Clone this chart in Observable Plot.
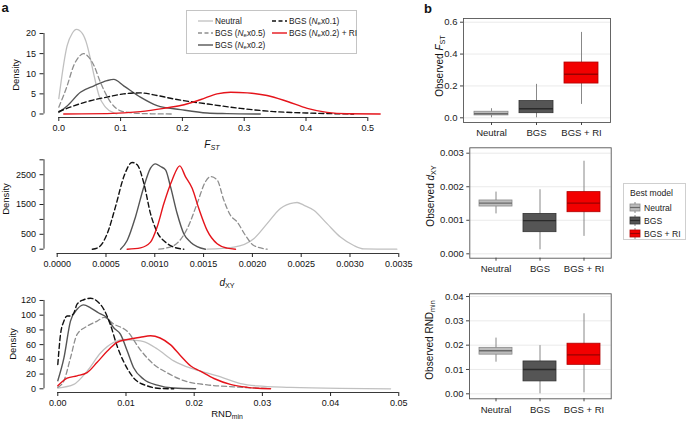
<!DOCTYPE html>
<html>
<head>
<meta charset="utf-8">
<script src="https://cdn.jsdelivr.net/npm/d3@7"></script>
<script src="https://cdn.jsdelivr.net/npm/@observablehq/plot@0.6"></script>
<style>
html,body{margin:0;padding:0;background:#fff;}
#chart{position:relative;width:686px;height:421px;overflow:hidden;font-family:"Liberation Sans",Arial,Helvetica,sans-serif;color:#111;}
.t{position:absolute;white-space:nowrap;line-height:1;}
.sub{font-size:0.72em;position:relative;top:0.32em;}
.lg{position:absolute;border:1px solid #c4c4c4;background:#fff;box-sizing:border-box;}
.lgt{position:absolute;white-space:nowrap;line-height:1;font-size:8.3px;color:#222;transform:translateY(-50%);}
</style>
</head>
<body>
<div id="chart"></div>
<script>
// ---------------- data ----------------
const seriesLabels = [
  "Neutral",
  "BGS (<i>N</i><span class='sub'>e</span>x0.5)",
  "BGS (<i>N</i><span class='sub'>e</span>x0.2)",
  "BGS (<i>N</i><span class='sub'>e</span>x0.1)",
  "BGS (<i>N</i><span class='sub'>e</span>x0.2) + RI"
];

// F_ST densities [value, density]
const fstNeutral = [[0,3.8],[0.0135,17],[0.0216,20],[0.0286,21],[0.038,20],[0.046,17],[0.051,13.8],[0.057,9.6],[0.065,4.6],[0.0755,1.7],[0.089,0.3],[0.094,0.05]];
const fstHalf = [[0,1.7],[0.0135,7],[0.024,12],[0.033,14.3],[0.04,15],[0.048,14.2],[0.057,12],[0.067,8],[0.076,5],[0.084,2.9],[0.1,0.8],[0.121,0.25],[0.15,0.05],[0.186,0]];
const fstFifth = [[0,0.4],[0.0135,2],[0.035,5.4],[0.057,7],[0.078,8.3],[0.089,8.6],[0.105,7],[0.132,4.2],[0.159,2.1],[0.197,1.1],[0.24,0.25],[0.272,0.1],[0.326,0]];
const fstTenth = [[0,0.6],[0.024,2],[0.051,3.3],[0.078,4.2],[0.105,5],[0.132,5.25],[0.159,4.6],[0.186,3.75],[0.24,2.5],[0.294,1.4],[0.348,0.6],[0.40,0.25],[0.456,0.05],[0.477,0]];
const fstRI = [[0.008,0],[0.078,0.1],[0.132,0.6],[0.17,1.4],[0.197,2.1],[0.23,3.6],[0.256,5],[0.278,5.4],[0.305,5.25],[0.337,4.6],[0.37,3.1],[0.402,1.4],[0.434,0.4],[0.466,0.05],[0.52,0]];

// d_XY densities
const dxyNeutral = [[0.001536,0],[0.00181,68],[0.002014,350],[0.002151,857],[0.002287,1365],[0.002424,1557],[0.002458,1568],[0.002526,1478],[0.002629,1308],[0.002765,857],[0.002902,406],[0.003039,124],[0.003141,11],[0.00348,0]];
const dxyHalf = [[0.001041,0],[0.001195,124],[0.001332,688],[0.001434,1534],[0.001519,2267],[0.001571,2436],[0.001639,2324],[0.001707,1647],[0.001775,1139],[0.001844,914],[0.001929,462],[0.002014,124],[0.002151,0]];
const dxyFifth = [[0.000649,0],[0.000717,293],[0.000802,1083],[0.000888,2098],[0.000956,2718],[0.001007,2865],[0.001058,2775],[0.00111,2662],[0.001161,2098],[0.001229,1196],[0.001297,519],[0.001366,237],[0.001434,90],[0.001519,0]];
const dxyTenth = [[0.00036,0],[0.000427,68],[0.000512,519],[0.000597,1421],[0.000683,2436],[0.000768,2910],[0.00082,2831],[0.000888,2211],[0.000956,1196],[0.001024,575],[0.00111,237],[0.001195,68],[0.001297,0]];
const dxyRI = [[0.000717,0],[0.000854,45],[0.000956,237],[0.001024,744],[0.001093,1534],[0.001178,2324],[0.001256,2797],[0.001314,2436],[0.001383,2042],[0.001451,1365],[0.001536,632],[0.001639,180],[0.001741,34],[0.001827,0]];

// RND_min densities
const rndNeutral = [[0,1],[0.00235,6],[0.0043,24],[0.0063,49],[0.0082,63],[0.0097,67],[0.0111,66],[0.0126,64],[0.0146,54],[0.017,38],[0.0195,28],[0.0209,24],[0.0234,17.6],[0.0268,7],[0.0292,4],[0.0341,2],[0.0414,0.5],[0.0488,0]];
const rndHalf = [[0,2],[0.0009,11],[0.00186,42],[0.00283,74],[0.0043,85],[0.00577,92],[0.0068,97],[0.0082,88],[0.0102,78],[0.0121,53],[0.0141,33],[0.016,22],[0.0185,11],[0.0219,5.4],[0.0258,2.7],[0.0292,1],[0.031,0.5]];
const rndFifth = [[0,11],[0.0009,42],[0.00186,92],[0.00283,108],[0.0038,114],[0.0048,110],[0.006,103],[0.00723,96.5],[0.0082,83],[0.0092,74],[0.0102,51],[0.0111,29],[0.0126,13],[0.0146,5],[0.017,1],[0.0202,0]];
const rndTenth = [[0,33],[0.0004,74],[0.0009,92],[0.00137,99],[0.00186,99],[0.00235,103],[0.00283,115],[0.0038,121],[0.0048,123],[0.00577,119],[0.00675,108],[0.0077,87.5],[0.0087,58],[0.0097,36],[0.0111,15],[0.0131,4],[0.015,0.5],[0.017,0]];
const rndRI = [[0,4],[0.00137,14.4],[0.00283,17.6],[0.0043,22],[0.00577,36],[0.00723,51],[0.0087,63],[0.0102,67],[0.0121,70],[0.0136,72],[0.015,69],[0.0165,60],[0.018,45],[0.0195,31],[0.0209,24],[0.0229,14],[0.0253,6],[0.0278,2],[0.0312,0]];

// tick values / labels (panel a)
const fstTicks = [0,0.1,0.2,0.3,0.4,0.5];
const fstTickLabels = ["0.0","0.1","0.2","0.3","0.4","0.5"];
const fstDensTicks = [0,5,10,15,20];
const fstDensLabels = ["0","5","10","15","20"];
const dxyTicks = [0,0.0005,0.001,0.0015,0.002,0.0025,0.003,0.0035];
const dxyTickLabels = ["0.0000","0.0005","0.0010","0.0015","0.0020","0.0025","0.0030","0.0035"];
const dxyDensTicks = [0,500,1000,1500,2000,2500,3000];
const dxyDensLabels = ["0","500","","1500","","2500",""];
const rndTicks = [0,0.01,0.02,0.03,0.04,0.05];
const rndTickLabels = ["0.00","0.01","0.02","0.03","0.04","0.05"];
const rndDensTicks = [0,20,40,60,80,100,120];
const rndDensLabels = ["0","20","40","60","80","100","120"];

// panel b: box plot summaries
const boxCats = ["Neutral","BGS","BGS + RI"];
const fstLo  = [0.0, 0.0, 0.084];
const fstQ1  = [0.015, 0.029, 0.215];
const fstMed = [0.025, 0.057, 0.273];
const fstQ3  = [0.038, 0.105, 0.347];
const fstHi  = [0.057, 0.21, 0.536];
const dxyLo  = [0.00119, 0.00012, 0.00052];
const dxyQ1  = [0.00141, 0.000645, 0.00124];
const dxyMed = [0.00151, 0.00099, 0.00151];
const dxyQ3  = [0.00159, 0.00119, 0.00184];
const dxyHi  = [0.00184, 0.00191, 0.00276];
const rndLo  = [0.013, 0.0, 0.0004];
const rndQ1  = [0.0161, 0.0051, 0.0119];
const rndMed = [0.0177, 0.010, 0.016];
const rndQ3  = [0.0189, 0.0133, 0.0206];
const rndHi  = [0.0229, 0.0198, 0.0329];
const boxFstTicks = [0,0.2,0.4,0.6];
const boxFstLabels = ["0.0","0.2","0.4","0.6"];
const boxDxyTicks = [0,0.001,0.002,0.003];
const boxDxyLabels = ["0.000","0.001","0.002","0.003"];
const boxRndTicks = [0,0.01,0.02,0.03,0.04];
const boxRndLabels = ["0.00","0.01","0.02","0.03","0.04"];

// ---------------- styles ----------------
const FONT = '"Liberation Sans", Arial, Helvetica, sans-serif';
const lineStyles = [
  {stroke:"#c0c0c0", dash:null, w:1.3},
  {stroke:"#8e8e8e", dash:"5,3", w:1.3},
  {stroke:"#555555", dash:null, w:1.4},
  {stroke:"#111111", dash:"5,3", w:1.4},
  {stroke:"#e5141b", dash:null, w:1.4}
];
const boxFill = ["#bcbcbc","#555555","#f20000"];
const boxStroke = ["#8a8a8a","#333333","#b00000"];
const boxMedian = ["#6a6a6a","#2a2a2a","#9a0000"];

const chart = document.getElementById("chart");
function place(el, left, top){
  el.style.position = "absolute";
  el.style.left = left + "px";
  el.style.top = top + "px";
  chart.appendChild(el);
}
function label(html, cx, cy, size, opts = {}){
  const d = document.createElement("div");
  d.className = "t";
  d.innerHTML = html;
  d.style.fontSize = size + "px";
  if (opts.bold) d.style.fontWeight = "bold";
  if (opts.color) d.style.color = opts.color;
  d.style.left = cx + "px";
  d.style.top = cy + "px";
  d.style.transform = "translate(-50%,-50%)" + (opts.rotate ? ` rotate(${opts.rotate}deg)` : "");
  chart.appendChild(d);
}

function densityPlot(cfg){
  const fx = new Map(cfg.xTicks.map((t,i)=>[t, cfg.xLabels[i]]));
  const fy = new Map(cfg.yTicks.map((t,i)=>[t, cfg.yLabels[i]]));
  const x0 = cfg.xDomain[0], y0 = cfg.yDomain[0];
  const marks = [
    Plot.ruleX([x0], {y1: () => cfg.yTicks[0], y2: () => cfg.yTicks[cfg.yTicks.length-1], stroke:"#222", strokeWidth:0.9}),
    Plot.ruleY([y0], {x1: () => cfg.xTicks[0], x2: () => cfg.xTicks[cfg.xTicks.length-1], stroke:"#222", strokeWidth:0.9}),
    Plot.axisX({ticks: cfg.xTicks, tickFormat: d => fx.get(d), tickSize:4, tickPadding:3, label:null, stroke:"#222"}),
    Plot.axisY({ticks: cfg.yTicks, tickFormat: d => fy.get(d), tickSize:4, tickPadding:4, label:null, stroke:"#222"}),
    ...cfg.series.map((s,i) => Plot.line(s, {
      x: d => d[0], y: d => d[1],
      stroke: lineStyles[i].stroke, strokeWidth: lineStyles[i].w,
      strokeDasharray: lineStyles[i].dash || undefined,
      curve: "monotone-x"
    }))
  ];
  const svg = Plot.plot({
    width: cfg.width, height: cfg.height,
    marginLeft: cfg.ml, marginRight: cfg.mr, marginTop: cfg.mt, marginBottom: cfg.mb,
    x: {domain: cfg.xDomain},
    y: {domain: cfg.yDomain},
    style: {background:"none", fontFamily: FONT, fontSize:"9px", color:"#111", overflow:"visible"},
    marks
  });
  place(svg, cfg.left, cfg.top);
}

function boxPlot(cfg){
  const rows = boxCats.map((c,i)=>({cat:c, i, lo:cfg.lo[i], q1:cfg.q1[i], med:cfg.med[i], q3:cfg.q3[i], hi:cfg.hi[i]}));
  const fy = new Map(cfg.yTicks.map((t,i)=>[t, cfg.yLabels[i]]));
  const marks = [
    Plot.ruleY(cfg.yTicks, {stroke:"#e4e4e4", strokeWidth:0.8}),
    Plot.ruleX(rows, {x:"cat", y1:"lo", y2:"hi", stroke:"#7a7a7a", strokeWidth:0.9}),
    ...rows.map(r => Plot.barY([r], {x:"cat", y1:"q1", y2:"q3", fill: boxFill[r.i], stroke: boxStroke[r.i], strokeWidth:0.8, insetLeft:0, insetRight:0})),
    ...rows.map(r => Plot.tickY([r], {x:"cat", y:"med", stroke: boxMedian[r.i], strokeWidth:1.4})),
    Plot.frame({stroke:"#555", strokeWidth:0.9}),
    Plot.axisY({ticks: cfg.yTicks, tickFormat: d => fy.get(d), tickSize:3, tickPadding:3, label:null, stroke:"#444"}),
    Plot.axisX({tickSize:3, tickPadding:4, label:null, stroke:"#444"})
  ];
  const svg = Plot.plot({
    width: cfg.width, height: cfg.height,
    marginLeft: cfg.ml, marginRight: cfg.mr, marginTop: cfg.mt, marginBottom: cfg.mb,
    x: {type:"band", domain: boxCats, paddingInner:0.24, paddingOuter:0.22},
    y: {domain: cfg.yDomain},
    style: {background:"none", fontFamily: FONT, fontSize:"9.5px", color:"#222", overflow:"visible"},
    marks
  });
  place(svg, cfg.left, cfg.top);
}

// ---------------- panel a ----------------
densityPlot({
  series: [fstNeutral, fstHalf, fstFifth, fstTenth, fstRI],
  xTicks: fstTicks, xLabels: fstTickLabels, yTicks: fstDensTicks, yLabels: fstDensLabels,
  xDomain: [-0.02395, 0.5529], yDomain: [-0.87, 21.86],
  left:0, top:0, width:410, height:150, ml:43.5, mr:10, mt:25.5, mb:33
});
densityPlot({
  series: [dxyNeutral, dxyHalf, dxyFifth, dxyTenth, dxyRI],
  xTicks: dxyTicks, xLabels: dxyTickLabels, yTicks: dxyDensTicks, yLabels: dxyDensLabels,
  xDomain: [-0.0001352, 0.00362], yDomain: [-144.3, 3134.5],
  left:0, top:140, width:420, height:140, ml:43.5, mr:10, mt:15.3, mb:27
});
densityPlot({
  series: [rndNeutral, rndHalf, rndFifth, rndTenth, rndRI],
  xTicks: rndTicks, xLabels: rndTickLabels, yTicks: rndDensTicks, yLabels: rndDensLabels,
  xDomain: [-0.002023, 0.05172], yDomain: [-5.03, 125.4],
  left:0, top:280, width:420, height:141, ml:43.5, mr:10, mt:16, mb:29
});

// ---------------- panel b ----------------
boxPlot({
  lo: fstLo, q1: fstQ1, med: fstMed, q3: fstQ3, hi: fstHi,
  yTicks: boxFstTicks, yLabels: boxFstLabels, yDomain: [-0.0295, 0.6233],
  left:400, top:0, width:230, height:145, ml:63, mr:20, mt:18, mb:23
});
boxPlot({
  lo: dxyLo, q1: dxyQ1, med: dxyMed, q3: dxyQ3, hi: dxyHi,
  yTicks: boxDxyTicks, yLabels: boxDxyLabels, yDomain: [-0.000131, 0.003161],
  left:400, top:140, width:230, height:140, ml:69.3, mr:19.3, mt:7.3, mb:22.3
});
boxPlot({
  lo: rndLo, q1: rndQ1, med: rndMed, q3: rndQ3, hi: rndHi,
  yTicks: boxRndTicks, yLabels: boxRndLabels, yDomain: [-0.002056, 0.04112],
  left:400, top:280, width:230, height:141, ml:69, mr:19.3, mt:13.3, mb:22.7
});

// ---------------- text ----------------
label("a", 5, 7, 13, {bold:true});
label("b", 428, 8, 13, {bold:true});
label("Density", 16, 75, 9.5, {rotate:-90});
label("Density", 6, 199, 9.5, {rotate:-90});
label("Density", 12.5, 344, 9.5, {rotate:-90});
label("<i>F<span class='sub'>ST</span></i>", 212, 145, 10);
label("<i>d</i><span class='sub'>XY</span>", 227, 283, 10);
label("RND<span class='sub'>min</span>", 227, 414, 9.5);
label("Observed <i>F</i><span class='sub'>ST</span>", 440, 66, 10, {rotate:-90});
label("Observed <i>d</i><span class='sub'>XY</span>", 431, 196, 10, {rotate:-90});
label("Observed RND<span class='sub'>min</span>", 430, 340, 10, {rotate:-90});

// ---------------- legend panel a ----------------
const lgA = document.createElement("div");
lgA.className = "lg";
Object.assign(lgA.style, {left:"186px", top:"10px", width:"171px", height:"44px"});
chart.appendChild(lgA);
const lgPos = [[0,0],[0,1],[0,2],[1,0],[1,1]];
lgPos.forEach(([col,row], i) => {
  const lx = col === 0 ? 11 : 85;
  const ly = 9.5 + row * 12;
  const s = lineStyles[i];
  const sv = document.createElementNS("http://www.w3.org/2000/svg","svg");
  sv.setAttribute("width","15"); sv.setAttribute("height","4");
  sv.style.position = "absolute"; sv.style.left = lx + "px"; sv.style.top = (ly - 2) + "px";
  const ln = document.createElementNS("http://www.w3.org/2000/svg","line");
  ln.setAttribute("x1","0"); ln.setAttribute("x2","15"); ln.setAttribute("y1","2"); ln.setAttribute("y2","2");
  ln.setAttribute("stroke", s.stroke); ln.setAttribute("stroke-width", s.w);
  if (s.dash) ln.setAttribute("stroke-dasharray", "4,2.5");
  sv.appendChild(ln);
  lgA.appendChild(sv);
  const tx = document.createElement("div");
  tx.className = "lgt";
  tx.innerHTML = seriesLabels[i];
  tx.style.left = (lx + 17) + "px";
  tx.style.top = ly + "px";
  lgA.appendChild(tx);
});

// ---------------- legend panel b ----------------
const lgB = document.createElement("div");
lgB.className = "lg";
Object.assign(lgB.style, {left:"623px", top:"183px", width:"63px", height:"57px", borderColor:"#cfcfcf"});
chart.appendChild(lgB);
const lgTitle = document.createElement("div");
lgTitle.className = "lgt";
lgTitle.textContent = "Best model";
lgTitle.style.left = "6px"; lgTitle.style.top = "9px"; lgTitle.style.fontSize = "8.6px";
lgB.appendChild(lgTitle);
boxCats.forEach((c,i) => {
  const ly = 23.5 + i * 13;
  const sv = document.createElementNS("http://www.w3.org/2000/svg","svg");
  sv.setAttribute("width","12"); sv.setAttribute("height","11");
  sv.style.position = "absolute"; sv.style.left = "5px"; sv.style.top = (ly - 5.5) + "px";
  const NS = "http://www.w3.org/2000/svg";
  const wl = document.createElementNS(NS,"line");
  wl.setAttribute("x1","6"); wl.setAttribute("x2","6"); wl.setAttribute("y1","0"); wl.setAttribute("y2","11");
  wl.setAttribute("stroke","#7a7a7a"); wl.setAttribute("stroke-width","0.9");
  sv.appendChild(wl);
  const rc = document.createElementNS(NS,"rect");
  rc.setAttribute("x","1"); rc.setAttribute("y","2"); rc.setAttribute("width","10"); rc.setAttribute("height","7");
  rc.setAttribute("fill", boxFill[i]); rc.setAttribute("stroke", boxStroke[i]); rc.setAttribute("stroke-width","0.8");
  sv.appendChild(rc);
  const md = document.createElementNS(NS,"line");
  md.setAttribute("x1","1"); md.setAttribute("x2","11"); md.setAttribute("y1","5.5"); md.setAttribute("y2","5.5");
  md.setAttribute("stroke", boxMedian[i]); md.setAttribute("stroke-width","1.2");
  sv.appendChild(md);
  lgB.appendChild(sv);
  const tx = document.createElement("div");
  tx.className = "lgt";
  tx.textContent = c;
  tx.style.left = "20px"; tx.style.top = ly + "px"; tx.style.fontSize = "8.6px";
  lgB.appendChild(tx);
});
</script>
</body>
</html>
